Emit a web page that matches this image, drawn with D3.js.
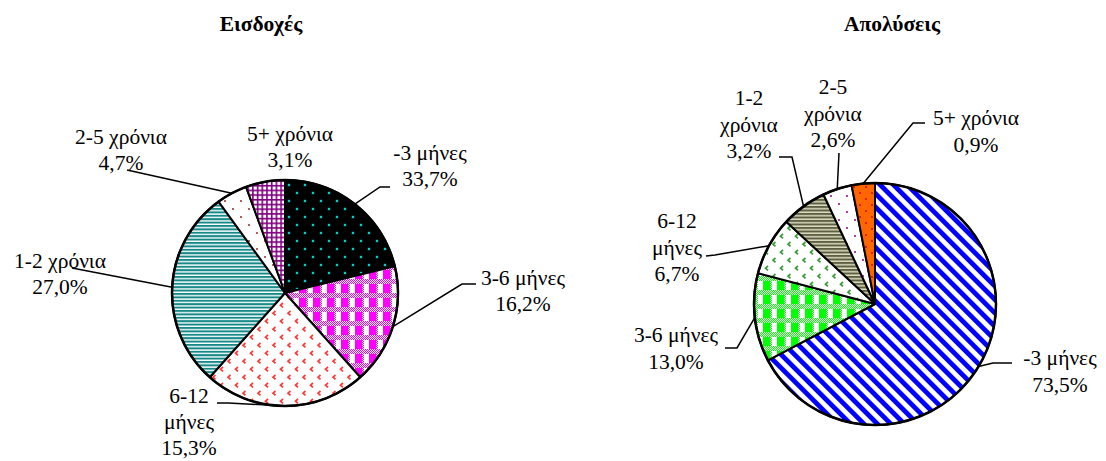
<!DOCTYPE html>
<html><head><meta charset="utf-8">
<script src="https://cdn.jsdelivr.net/npm/d3@7"></script>
<style>body{margin:0;background:#fff} svg{display:block}</style>
</head><body>
<script>
// ---------------- data ----------------
const categories = ["-3 μήνες","3-6 μήνες","6-12 μήνες","1-2 χρόνια","2-5 χρόνια","5+ χρόνια"];
const chartTitles = ["Εισδοχές","Απολύσεις"];
// percentages printed in the data labels
const admissionsLabelValues = [33.7,16.2,15.3,27.0,4.7,3.1];
const dismissalsLabelValues = [73.5,13.0,6.7,3.2,2.6,0.9];
// wedge sizes as drawn in the picture (%)
const admissionsWedges = [21.2,17.2,23.2,28.4,4.4,5.6];
const dismissalsWedges = [67.3,11.8,7.8,6.1,3.9,3.1];
// how each label's category text is broken into lines
const admissionsLabelLines = [["-3 μήνες"],["3-6 μήνες"],["6-12","μήνες"],["1-2 χρόνια"],["2-5 χρόνια"],["5+ χρόνια"]];
const dismissalsLabelLines = [["-3 μήνες"],["3-6 μήνες"],["6-12","μήνες"],["1-2","χρόνια"],["2-5","χρόνια"],["5+ χρόνια"]];

// ---------------- layout ----------------
const W = 1106, H = 461;
const svg = d3.select("body").append("svg").attr("width", W).attr("height", H);
const defs = svg.append("defs");

function pat(id, w, h, bg, draw, transform) {
  const p = defs.append("pattern").attr("id", id).attr("patternUnits", "userSpaceOnUse")
    .attr("width", w).attr("height", h);
  if (transform) p.attr("patternTransform", transform);
  if (bg) p.append("rect").attr("width", w).attr("height", h).attr("fill", bg);
  draw(p);
  return "url(#" + id + ")";
}
function dots(id, bg, col, size, tile) {
  return pat(id, tile, tile, bg, p => {
    [[tile/4, tile/4], [tile*3/4, tile*3/4]].forEach(([x, y]) =>
      p.append("rect").attr("x", x - size/2).attr("y", y - size/2).attr("width", size).attr("height", size).attr("fill", col));
  });
}
function chevrons(id, col) {
  return pat(id, 15, 16, "#fff", p => {
    [[3, 2], [10.5, 10]].forEach(([x, y]) =>
      p.append("path").attr("d", `M${x+2.5},${y} L${x},${y+2.2} L${x+2.5},${y+4.4}`)
        .attr("fill", "none").attr("stroke", col).attr("stroke-width", 1.7));
  });
}
function fine(id, col) {
  return pat(id, 2, 2, "#fff", p => {
    p.append("rect").attr("width", 1).attr("height", 1).attr("fill", col);
    p.append("rect").attr("x", 1).attr("y", 1).attr("width", 1).attr("height", 1).attr("fill", col);
  });
}
function plaid(id, col) {
  const f = fine(id + "f", col);
  return pat(id, 14, 14, "#fff", p => {
    p.append("rect").attr("width", 14).attr("height", 5).attr("fill", f);
    p.append("rect").attr("x", 7).attr("y", 5).attr("width", 2).attr("height", 9).attr("fill", f);
    p.append("rect").attr("x", 0).attr("y", 5).attr("width", 7).attr("height", 9).attr("fill", col);
  });
}
function hstripes(id, bg, col, period, thick) {
  return pat(id, 8, period, bg, p => {
    p.append("rect").attr("width", 8).attr("height", thick).attr("fill", col);
  });
}

const leftFills = [
  dots("pL0", "#000", "#10c8c8", 2.4, 16),
  plaid("pL1", "#ff00ff"),
  chevrons("pL2", "#ff3838"),
  hstripes("pL3", "#fff", "#168888", 3.4, 2),
  dots("pL4", "#fff", "#b06060", 2, 16),
  pat("pL5", 4.7, 4.7, "#fff", p => {
    p.append("rect").attr("width", 4.7).attr("height", 1.6).attr("fill", "#800080");
    p.append("rect").attr("width", 1.6).attr("height", 4.7).attr("fill", "#800080");
  })
];
const rightFills = [
  pat("pR0", 9.5, 10, "#fff", p => {
    p.append("rect").attr("width", 4.8).attr("height", 10).attr("fill", "#0000ff");
  }, "rotate(-45)"),
  plaid("pR1", "#00ff00"),
  chevrons("pR2", "#3a9a3a"),
  hstripes("pR3", "#dcdcc0", "#5e5e42", 3.5, 2),
  dots("pR4", "#fff", "#b040b0", 2, 16),
  dots("pR5", "#ff6600", "#e02000", 2, 12)
];

const fmt = v => d3.format(".1f")(v).replace(".", ",") + "%";
const FONT = "'Liberation Serif','Times New Roman',serif";

const panels = [
  { title: chartTitles[0], titleX: 261, titleY: 31, cx: 285, cy: 293, r: 113,
    wedges: admissionsWedges, labels: admissionsLabelValues, lines: admissionsLabelLines, fills: leftFills, lh: 26,
    pos: [
      { x: 430, y: 160, lead: [[390,187],[380,187]] },
      { x: 523, y: 285, lead: [[476,284],[462,284]] },
      { x: 189, y: 403, lead: [[217,403],[228,403]] },
      { x: 60,  y: 268, lead: [[72,268]] },
      { x: 121, y: 144, lead: [[127,170]] },
      { x: 290, y: 141, lead: null }
    ] },
  { title: chartTitles[1], titleX: 892, titleY: 31, cx: 875, cy: 304, r: 121,
    wedges: dismissalsWedges, labels: dismissalsLabelValues, lines: dismissalsLabelLines, fills: rightFills, lh: 26.5,
    pos: [
      { x: 1060, y: 365, lead: [[1012,363],[993,363]] },
      { x: 676,  y: 342, lead: [[725,348],[737,348]] },
      { x: 677,  y: 228, lead: [[706,256],[715,255]] },
      { x: 749,  y: 105, lead: [[779,157],[792,157]] },
      { x: 833,  y: 94,  lead: [[839,153]] },
      { x: 976,  y: 125, lead: [[925,123],[913,123]] }
    ] }
];

panels.forEach(P => {
  const data = categories.map((c, i) => ({ cat: c, v: P.wedges[i], lab: P.labels[i], lines: P.lines[i], i }));
  const pie = d3.pie().sort(null).value(d => d.v);
  const arcs = pie(data);
  const arc = d3.arc().innerRadius(0).outerRadius(P.r);
  const edge = d3.arc().innerRadius(P.r).outerRadius(P.r);
  const g = svg.append("g").attr("transform", `translate(${P.cx},${P.cy})`);

  g.selectAll("path.w").data(arcs).join("path").attr("class", "w")
    .attr("d", arc).attr("fill", d => P.fills[d.data.i])
    .attr("stroke", "#000").attr("stroke-width", 2).attr("stroke-linejoin", "round");
  g.append("circle").attr("r", P.r).attr("fill", "none").attr("stroke", "#000").attr("stroke-width", 2.5);

  // leader lines
  arcs.forEach(a => {
    const L = P.pos[a.data.i];
    if (!L.lead) return;
    const e = edge.centroid(a);
    const pts = L.lead.concat([[e[0] + P.cx, e[1] + P.cy]]);
    svg.append("path").attr("d", d3.line()(pts)).attr("fill", "none")
      .attr("stroke", "#000").attr("stroke-width", 1.5);
  });

  // labels
  arcs.forEach(a => {
    const L = P.pos[a.data.i];
    const t = svg.append("text").attr("x", L.x).attr("y", L.y).attr("text-anchor", "middle")
      .attr("font-family", FONT).attr("font-size", 21.5).attr("fill", "#000");
    const all = a.data.lines.concat([fmt(a.data.lab)]);
    all.forEach((s, k) => t.append("tspan").attr("x", L.x).attr("dy", k === 0 ? 0 : P.lh).text(s));
  });

  svg.append("text").attr("x", P.titleX).attr("y", P.titleY).attr("text-anchor", "middle")
    .attr("font-family", FONT).attr("font-weight", "bold")
    .attr("font-size", 21.5).text(P.title);
});
</script>
</body></html>
